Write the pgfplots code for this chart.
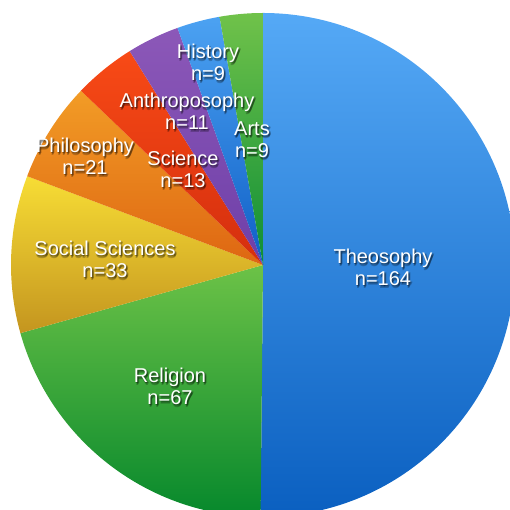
\documentclass[border=0pt]{standalone}
\usepackage{pgfplots}
\usepackage{pgfplotstable}
\pgfplotsset{compat=1.18}
\usepackage{fontspec}
\setmainfont{Liberation Sans}

\definecolor{c0t}{HTML}{55A9F6}\definecolor{c0b}{HTML}{0A5FC0}
\definecolor{c1t}{HTML}{6CC247}\definecolor{c1b}{HTML}{06882C}
\definecolor{c2t}{HTML}{F7DD35}\definecolor{c2b}{HTML}{C4951F}
\definecolor{c3t}{HTML}{F29C26}\definecolor{c3b}{HTML}{DE6612}
\definecolor{c4t}{HTML}{F84A16}\definecolor{c4b}{HTML}{D42E0E}
\definecolor{c5t}{HTML}{8C58B8}\definecolor{c5b}{HTML}{6E3FA8}
\definecolor{c6t}{HTML}{4CA2F2}\definecolor{c6b}{HTML}{0F5FC6}
\definecolor{c7t}{HTML}{70C24A}\definecolor{c7b}{HTML}{0E8E36}

\tikzset{lbl/.style={font=\fontsize{20}{22}\selectfont, align=center, inner sep=0pt, anchor=center}}

\pgfplotstableread[col sep=comma]{
name,value,lx,ly
Theosophy,164,383,243
Religion,67,170,124
Social Sciences,33,105,251
Philosophy,21,85,354
Science,13,183,341
Anthroposophy,11,187,399
History,9,208,448
Arts,9,252,370
}\piedata

\begin{document}
\begin{tikzpicture}
\begin{axis}[scale only axis, width=510pt, height=510pt,
  xmin=0, xmax=510, ymin=0, ymax=510, hide axis, clip=true]
\pgfplotstablegetrowsof{\piedata}
\pgfmathtruncatemacro\nrows{\pgfplotsretval-1}
\def\total{0}
\pgfplotsforeachungrouped \i in {0,...,\nrows}{%
  \pgfplotstablegetelem{\i}{value}\of\piedata
  \pgfmathsetmacro\total{\total+\pgfplotsretval}}
\def\cur{90}
\pgfplotsforeachungrouped \i in {0,...,\nrows}{%
  \pgfplotstablegetelem{\i}{value}\of\piedata \let\v\pgfplotsretval
  \pgfmathsetmacro\nxt{\cur-\v/\total*360}%
  \edef\temp{\noexpand\shade[top color=c\i t, bottom color=c\i b] (axis cs:263,245) -- ++(\cur:252pt) arc[start angle=\cur, end angle=\nxt, radius=252pt] -- cycle;}%
  \temp
  \let\cur\nxt
}
\pgfplotsforeachungrouped \i in {0,...,\nrows}{%
  \pgfplotstablegetelem{\i}{value}\of\piedata \let\v\pgfplotsretval
  \pgfplotstablegetelem{\i}{name}\of\piedata \let\nm\pgfplotsretval
  \pgfplotstablegetelem{\i}{lx}\of\piedata \let\lx\pgfplotsretval
  \pgfplotstablegetelem{\i}{ly}\of\piedata \let\ly\pgfplotsretval
  \edef\temp{%
    \noexpand\node[lbl, text=black, text opacity=0.22, xshift=1.5pt, yshift=-2pt] at (axis cs:\lx,\ly) {\nm\noexpand\\n=\v};
    \noexpand\node[lbl, text=black, text opacity=0.22, xshift=0.5pt, yshift=-1.5pt] at (axis cs:\lx,\ly) {\nm\noexpand\\n=\v};
    \noexpand\node[lbl, text=black, text opacity=0.22, xshift=2pt, yshift=-1pt] at (axis cs:\lx,\ly) {\nm\noexpand\\n=\v};
    \noexpand\node[lbl, text=black, text opacity=0.22, xshift=1pt, yshift=-3pt] at (axis cs:\lx,\ly) {\nm\noexpand\\n=\v};
    \noexpand\node[lbl, text=white] at (axis cs:\lx,\ly) {\nm\noexpand\\n=\v};}%
  \temp
}
\end{axis}
\pgfresetboundingbox
\path (current axis.south west) rectangle (current axis.north east);
\end{tikzpicture}
\end{document}
